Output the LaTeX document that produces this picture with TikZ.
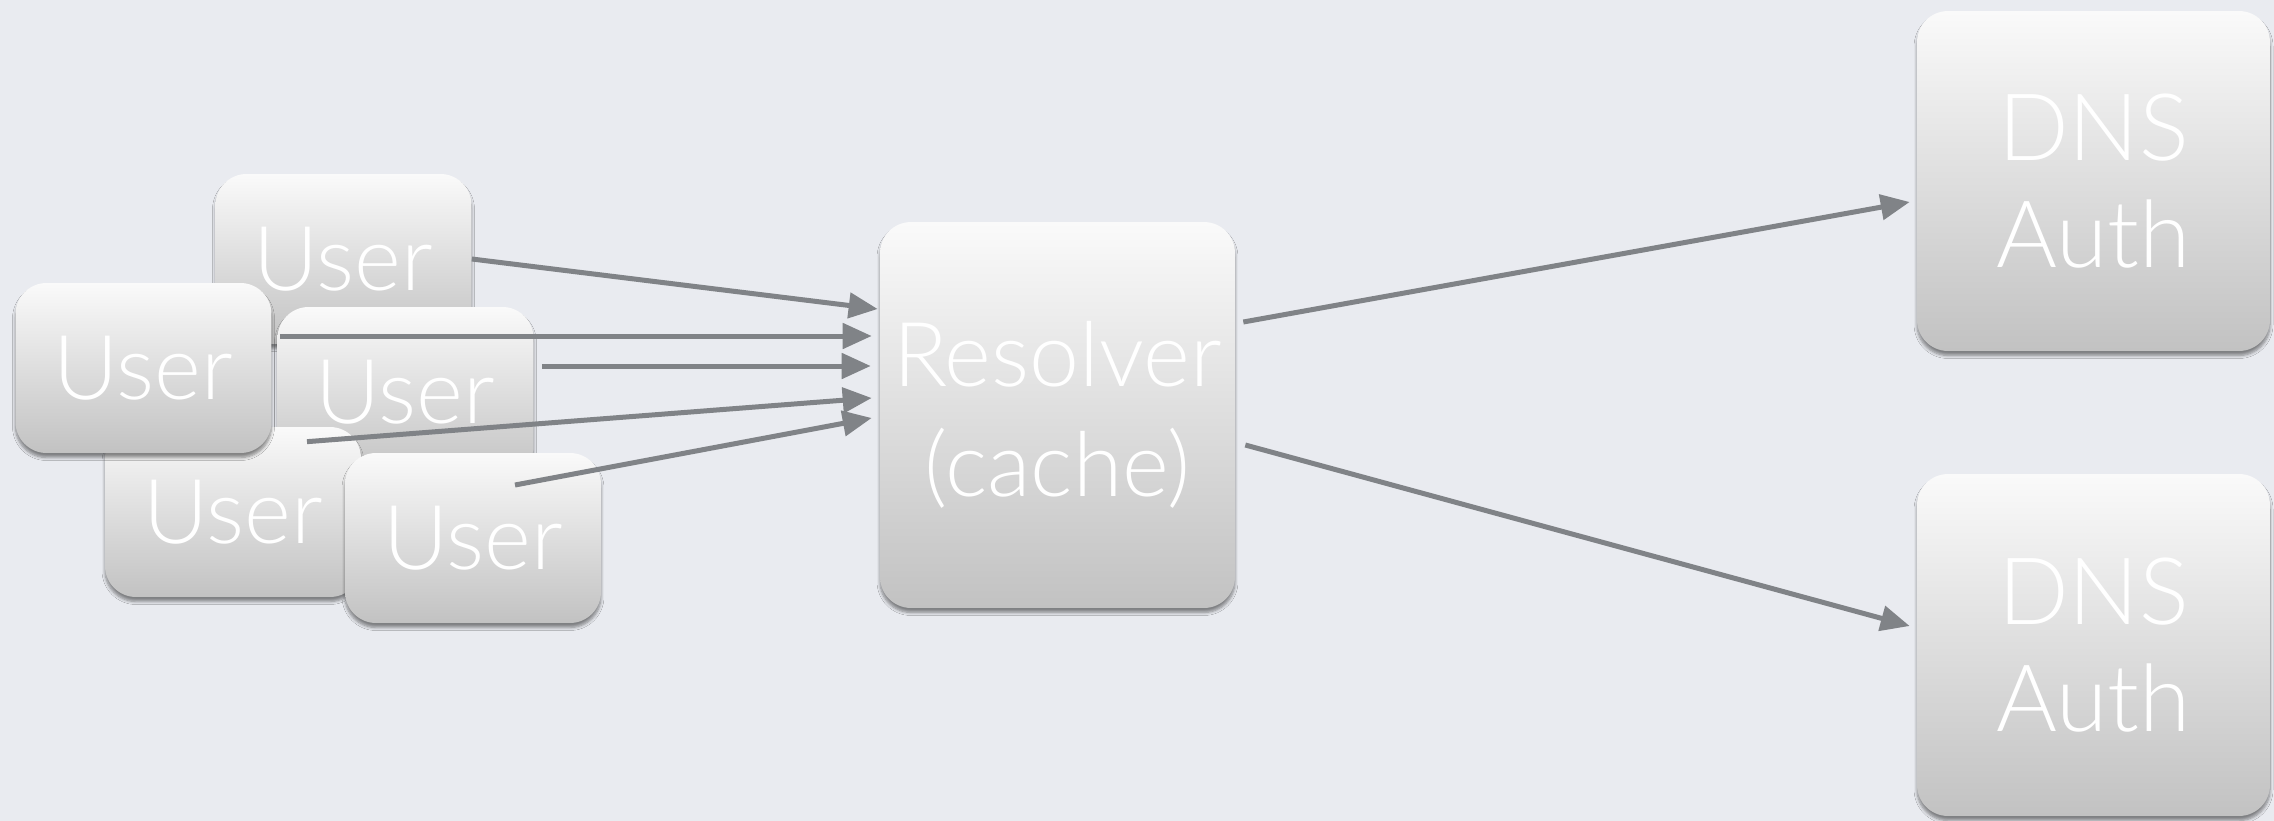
\documentclass[tikz,border=0pt]{standalone}
\usepackage{fontspec}
\newfontfamily\lightfont{Lato Light}
\usetikzlibrary{calc,arrows.meta,shadows.blur}
\definecolor{bg}{RGB}{233,235,240}
\definecolor{arr}{RGB}{128,131,135}
\definecolor{boxtop}{RGB}{250,250,250}
\definecolor{boxbot}{RGB}{194,194,194}
\begin{document}
\begin{tikzpicture}[x=0.02cm,y=-0.02cm,
  box/.style={rounded corners=0.62cm, top color=boxtop, bottom color=boxbot, text=white, align=center, inner sep=0pt,
    blur shadow={shadow xshift=0pt, shadow yshift=-0.09cm, shadow blur radius=0.06cm, shadow opacity=45, shadow blur steps=6}},
  user/.style={box, minimum width=5.12cm, minimum height=3.4cm, font=\lightfont\fontsize{51}{62}\selectfont},
  big/.style={box, font=\lightfont\fontsize{51}{62.5}\selectfont},
  conn/.style={draw=arr, line width=0.1cm, -{Triangle[length=0.58cm,width=0.5cm]}}]
\fill[bg] (0,0) rectangle (2274,821);
\useasboundingbox (0,0) rectangle (2274,821);
% users
\node[user] (uA) at (343.5,259) {User};
\node[user] (uC) at (405.5,392) {User};
\node[user] (uD) at (233,512) {User};
\node[user] (uB) at (143.5,368) {User};
\node[user] (uE) at (473,538) {User};
% resolver
\node[big, minimum width=7.1cm, minimum height=7.72cm] (res) at (1057.5,415) {Resolver\\(cache)};
% DNS auth
\node[big, minimum width=7.06cm, minimum height=6.8cm, font=\lightfont\fontsize{53}{61}\selectfont] (dns1) at (2093.5,181) {DNS\\Auth};
\node[big, minimum width=7.06cm, minimum height=6.84cm, font=\lightfont\fontsize{53}{61}\selectfont] (dns2) at (2093.5,645) {DNS\\Auth};
% connectors
\draw[conn] (uA.east) -- ($(res.west)+(-2,-106)$);
\draw[conn] ($(uB.east)+(8,-32)$) -- ($(res.west)+(-8,-79)$);
\draw[conn] ($(uC.east)+(8,-26)$) -- ($(res.west)+(-9,-49)$);
\draw[conn] ($(uD.north)+(74,15)$) -- ($(res.west)+(-8,-17)$);
\draw[conn] ($(uE.center)+(42,-53)$) -- ($(res.west)+(-8,3)$);
\draw[conn] ($(res.east)+(8,-93)$) -- ($(dns1.west)+(-7,21)$);
\draw[conn] ($(res.east)+(10,30)$) -- ($(dns2.west)+(-7,-19)$);
\end{tikzpicture}
\end{document}
